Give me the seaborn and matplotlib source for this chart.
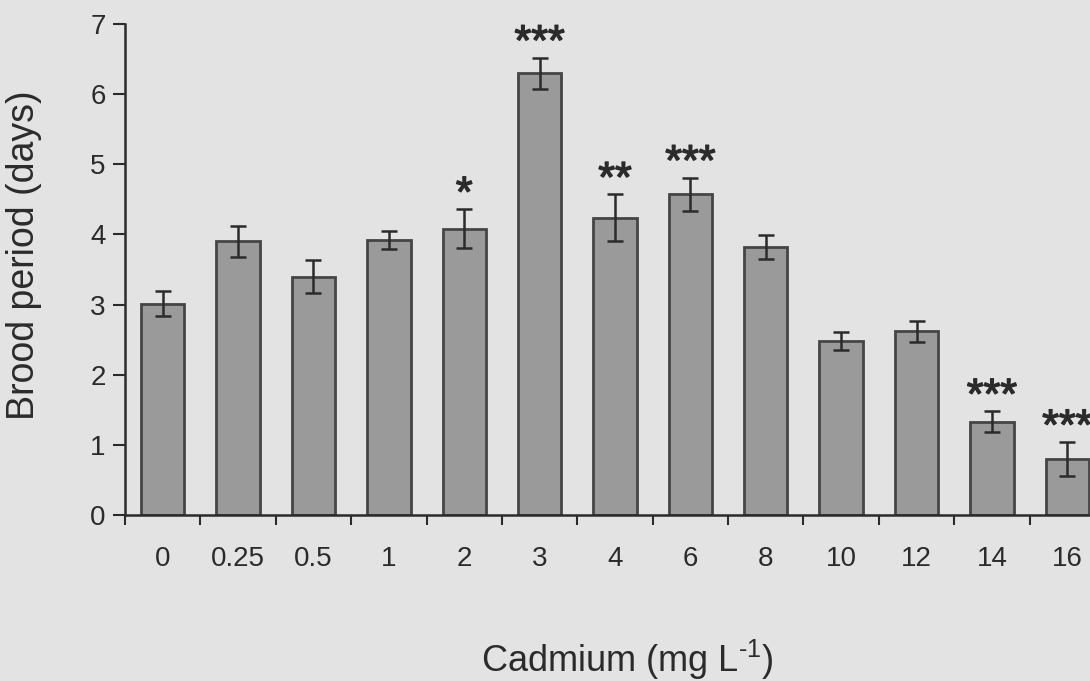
import matplotlib
matplotlib.use("Agg")
import matplotlib.pyplot as plt
import matplotlib.patheffects as pe
from matplotlib.ticker import FixedLocator
import numpy as np
import pandas as pd
import seaborn as sns

# Cadmium concentrations (mg/L) and mean brood period (days) with standard errors
concentrations = ["0", "0.25", "0.5", "1", "2", "3", "4", "6", "8", "10", "12", "14", "16"]
brood_mean = [3.01, 3.90, 3.40, 3.92, 4.08, 6.30, 4.24, 4.57, 3.82, 2.48, 2.62, 1.33, 0.80]
brood_se = [0.18, 0.22, 0.23, 0.13, 0.28, 0.22, 0.33, 0.24, 0.17, 0.13, 0.15, 0.15, 0.24]
significance = ["", "", "", "", "*", "***", "**", "***", "", "", "", "***", "***"]

sns.set_theme(style="ticks")
plt.rcParams["font.family"] = ["Liberation Sans", "DejaVu Sans"]
plt.rcParams["mathtext.fontset"] = "custom"
plt.rcParams["mathtext.rm"] = "Liberation Sans"
plt.rcParams["mathtext.it"] = "Liberation Sans"
plt.rcParams["mathtext.bf"] = "Liberation Sans:bold"

bg = "#e3e3e3"
ink = "#2b2b2b"
bar_fill = "#9a9a9a"
bar_edge = "#454545"

df = pd.DataFrame({"cadmium": concentrations, "period": brood_mean})

fig = plt.figure(figsize=(10.9, 6.81), dpi=100, facecolor=bg)
ax = fig.add_axes([125 / 1090, 1 - 515 / 681, 980 / 1090, 491 / 681])
ax.set_facecolor(bg)

sns.barplot(data=df, x="cadmium", y="period", order=concentrations,
            color=bar_fill, saturation=1, edgecolor=bar_edge, linewidth=2.0,
            width=0.575, errorbar=None, ax=ax)

xpos = np.arange(len(concentrations))
ax.errorbar(xpos, brood_mean, yerr=brood_se, fmt="none", ecolor=ink,
            elinewidth=1.8, capsize=5.5, capthick=1.8, zorder=4)

# significance markers just above the error bars
for x, m, s, lab in zip(xpos, brood_mean, brood_se, significance):
    if lab:
        ax.text(x, m + s + 0.04, lab, ha="center", va="baseline",
                fontsize=31, color=ink, clip_on=False,
                path_effects=[pe.withStroke(linewidth=1.0, foreground=ink)])

ax.set_xlim(-0.5, len(concentrations) - 0.5)
ax.set_ylim(0, 7)
ax.set_yticks(range(0, 8))

# category labels centred under bars, tick marks between categories
ax.tick_params(axis="x", which="major", length=0, pad=22, labelsize=20, labelcolor=ink)
ax.xaxis.set_minor_locator(FixedLocator(np.arange(-0.5, len(concentrations), 1.0)))
ax.tick_params(axis="x", which="minor", length=7, width=1.5, color=ink, direction="out")
ax.tick_params(axis="y", length=9, width=1.5, color=ink, direction="out",
               labelsize=20, labelcolor=ink, pad=5)

for side in ["top", "right"]:
    ax.spines[side].set_visible(False)
for side in ["left", "bottom"]:
    ax.spines[side].set_color(ink)
    ax.spines[side].set_linewidth(1.8)

ax.set_xlabel(r"Cadmium (mg L$^{\text{-1}}$)", fontsize=26, color=ink)
ax.xaxis.set_label_coords(0.513, -0.25)
ax.set_ylabel("Brood period (days)", fontsize=27, color=ink)
ax.yaxis.set_label_coords(-0.085, 0.53)

fig.savefig("out.png", dpi=100, facecolor=bg)
